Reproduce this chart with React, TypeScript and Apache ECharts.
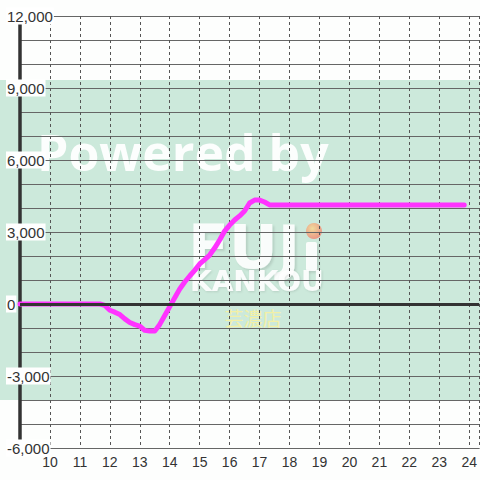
import React, { useEffect, useRef } from "react";
import * as echarts from "echarts";

// Time of day (HH:MM) and balance values
const times = [
  "9:00", "10:00", "11:00", "11:40", "11:50", "12:00", "12:10", "12:20", "12:30", "12:40",
  "12:50", "13:00", "13:10", "13:20", "13:30", "13:40", "13:50", "14:00", "14:10", "14:20",
  "14:30", "14:40", "14:50", "15:00", "15:10", "15:20", "15:30", "15:40", "15:50", "16:00",
  "16:10", "16:20", "16:30", "16:40", "16:50", "17:00", "17:10", "17:20", "18:00", "19:00",
  "20:00", "21:00", "22:00", "23:00", "23:50",
];
const values = [
  0, 0, 0, 0, -60, -260, -340, -440, -620, -770,
  -860, -920, -1100, -1130, -1130, -850, -480, -110, 260, 625,
  917, 1167, 1400, 1667, 1850, 2040, 2330, 2667, 3040, 3290,
  3500, 3670, 3875, 4210, 4330, 4330, 4250, 4130, 4130, 4130,
  4130, 4130, 4130, 4130, 4130,
];
const xHourLabels = [10, 11, 12, 13, 14, 15, 16, 17, 18, 19, 20, 21, 22, 23, 24];
const yLabelValues = [-6000, -3000, 0, 3000, 6000, 9000, 12000];

const toHour = (t: string) => {
  const [h, m] = t.split(":").map(Number);
  return h + m / 60;
};

export default function App() {
  const ref = useRef<HTMLDivElement>(null);
  useEffect(() => {
    if (!ref.current) return;
    const chart = echarts.init(ref.current, undefined, { renderer: "svg" });
    const data = times.map((t, i) => [toHour(t), values[i]]);
    const shadow = { textShadowColor: "rgba(0,0,0,0.12)", textShadowBlur: 2, textShadowOffsetX: 2, textShadowOffsetY: 2 };
    const option: any = {
      animation: false,
      backgroundColor: "#fdfefd",
      grid: { left: 20, right: 0, top: 16, bottom: 32 },
      graphic: [
        { type: "rect", z: -10, silent: true, shape: { x: 0, y: 80, width: 480, height: 320 }, style: { fill: "#cce9db" } },
        {
          type: "text", z: -9, silent: true, x: 37, y: 152,
          style: { text: "Powered by", fontFamily: "Open Sans", fontWeight: "bold", fontSize: 50, fill: "rgba(255,255,255,0.93)", verticalAlign: "middle", align: "left" },
        },
        {
          type: "text", z: -9, silent: true, x: 188, y: 247,
          style: { text: "FUJ", fontFamily: "DejaVu Sans", fontWeight: "bold", fontSize: 60, fill: "rgba(255,255,255,0.9)", verticalAlign: "middle", align: "left", ...shadow },
        },
        { type: "rect", z: -9, silent: true, shape: { x: 306, y: 242, width: 11, height: 29, r: 2 }, style: { fill: "rgba(255,255,255,0.9)", shadowColor: "rgba(0,0,0,0.12)", shadowBlur: 2, shadowOffsetX: 2, shadowOffsetY: 2 } },
        {
          type: "circle", z: -9, silent: true, shape: { cx: 314, cy: 231, r: 8 },
          style: { fill: new echarts.graphic.RadialGradient(0.4, 0.35, 0.7, [{ offset: 0, color: "rgba(250,215,140,0.8)" }, { offset: 1, color: "rgba(240,125,110,0.8)" }]) },
        },
        {
          type: "text", z: -9, silent: true, x: 190, y: 281,
          style: { text: "KANKOU", fontFamily: "DejaVu Sans", fontWeight: "bold", fontSize: 28, fill: "rgba(255,255,255,0.9)", verticalAlign: "middle", align: "left", ...shadow, textShadowOffsetX: 1, textShadowOffsetY: 1 },
        },
        {
          type: "text", z: -9, silent: true, x: 253, y: 317,
          style: { text: "芸濃店", fontFamily: "Noto Sans CJK JP", fontSize: 19, fill: "#f3f0a6", verticalAlign: "middle", align: "center" },
        },
      ],
      xAxis: {
        type: "value", min: 9, max: 24 + 1 / 3, interval: 1,
        axisLine: { show: true, onZero: false, lineStyle: { color: "#666", width: 1 } },
        axisTick: { show: false },
        axisLabel: {
          showMaxLabel: false,
          formatter: (v: number) => (xHourLabels.includes(v) ? String(v) : ""),
          color: "#333", fontSize: 14, margin: 7, fontFamily: "Liberation Sans",
        },
        splitLine: { show: true, lineStyle: { color: "#555", type: [3, 3], width: 1 } },
      },
      yAxis: {
        type: "value", min: -6000, max: 12000, interval: 1000,
        axisLine: { show: true, lineStyle: { color: "#333", width: 3.5 } },
        axisTick: { show: false },
        axisLabel: {
          formatter: (v: number) => (yLabelValues.includes(v) ? "{b|" + v.toLocaleString("en-US") + "}" : ""),
          align: "left", margin: 14,
          rich: {
            b: { fontSize: 15, color: "#333", fontFamily: "Liberation Sans", backgroundColor: "#ffffff", padding: [1, 1] },
          },
        },
        splitLine: { show: true, lineStyle: { color: "#666", width: 1 } },
      },
      series: [
        {
          type: "line", data: [], z: 2, silent: true,
          markLine: { silent: true, symbol: "none", label: { show: false }, lineStyle: { color: "#333", width: 3, type: "solid" }, data: [{ yAxis: 0 }] },
        },
        {
          type: "line", data, z: 3, showSymbol: false, silent: true,
          lineStyle: { color: "#ff33ff", width: 5, cap: "round", join: "round" },
        },
      ],
    };
    chart.setOption(option);
    return () => chart.dispose();
  }, []);
  return <div ref={ref} style={{ position: "fixed", left: 0, top: 0, width: 480, height: 480 }} />;
}
